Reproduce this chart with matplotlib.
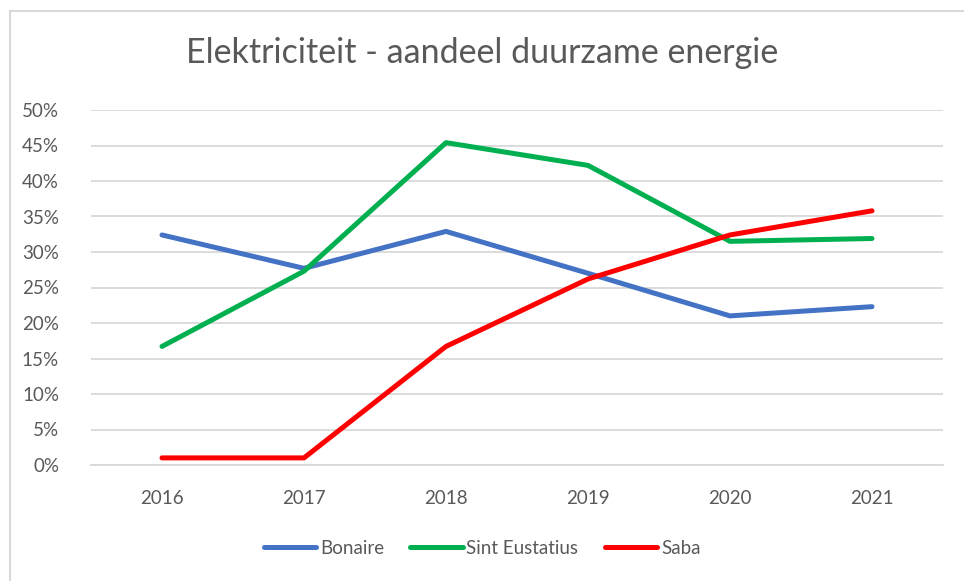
import matplotlib.pyplot as plt
from matplotlib.lines import Line2D

years = ['2016', '2017', '2018', '2019', '2020', '2021']
bonaire = [32.4, 27.7, 32.9, 27.0, 21.0, 22.3]
sint_eustatius = [16.7, 27.3, 45.4, 42.2, 31.5, 31.9]
saba = [1.0, 1.0, 16.7, 26.2, 32.4, 35.8]
yticks = [0, 5, 10, 15, 20, 25, 30, 35, 40, 45, 50]

plt.rcParams['font.family'] = ['Lato', 'DejaVu Sans']

fig = plt.figure(figsize=(9.64, 5.81), dpi=100)
ax = fig.add_axes([91/964, 1-465/581, (943-91)/964, (465-110)/581])

x = range(len(years))
ax.plot(x, bonaire, color='#4472C4', lw=3.6, solid_capstyle='round', label='Bonaire')
ax.plot(x, sint_eustatius, color='#00B050', lw=3.6, solid_capstyle='round', label='Sint Eustatius')
ax.plot(x, saba, color='#FF0000', lw=3.6, solid_capstyle='round', label='Saba')

ax.set_xlim(-0.5, len(years)-0.5)
ax.set_ylim(0, 50)
ax.set_xticks(list(x))
ax.set_xticklabels(years)
ax.set_yticks(yticks)
ax.set_yticklabels([str(v)+'%' for v in yticks])
ax.tick_params(axis='both', length=0, labelsize=13.5, colors='#595959')
ax.tick_params(axis='y', pad=23)
ax.tick_params(axis='x', pad=18)
ax.yaxis.grid(True, color='#D9D9D9', lw=1.3)
ax.set_axisbelow(True)
for s in ['top', 'right', 'left']:
    ax.spines[s].set_visible(False)
ax.spines['bottom'].set_color('#D9D9D9')
ax.spines['bottom'].set_linewidth(1.3)

fig.text(0.5, 1-53/581, 'Elektriciteit - aandeel duurzame energie', ha='center', va='center',
         fontsize=24.5, color='#595959')

leg = fig.legend(loc='center', bbox_to_anchor=(0.5, 1-548/581), ncol=3, frameon=False,
                 fontsize=13.5, handlelength=2.8, handletextpad=0.2, columnspacing=1.4)
for t in leg.get_texts():
    t.set_color('#595959')

# outer chart frame (only top and left edges show)
fig.add_artist(Line2D([10/964, 10/964], [0, 1-11/581], transform=fig.transFigure, color='#D9D9D9', lw=1.5))
fig.add_artist(Line2D([10/964, 1], [1-11/581, 1-11/581], transform=fig.transFigure, color='#D9D9D9', lw=1.5))

fig.savefig('out.png', dpi=100)
